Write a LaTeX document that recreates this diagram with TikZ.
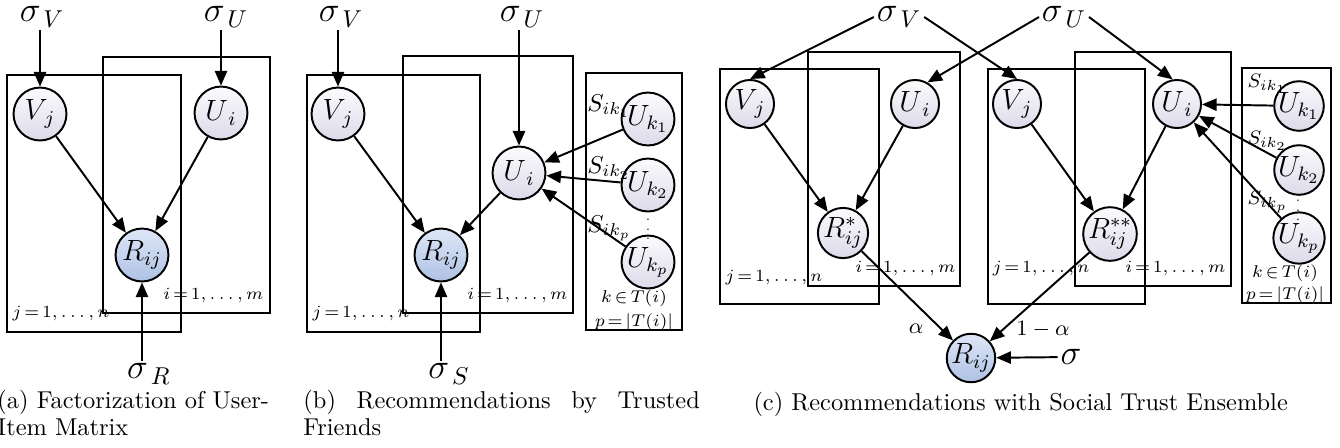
\documentclass[tikz,border=0pt]{standalone}
\usetikzlibrary{arrows.meta}
\definecolor{nodetop}{RGB}{252,251,253}
\definecolor{nodebot}{RGB}{220,218,233}
\definecolor{obstop}{RGB}{222,231,247}
\definecolor{obsbot}{RGB}{174,193,228}
\newcommand\idxfont{\fontsize{7.2}{9}\selectfont\thickmuskip=2.5mu\medmuskip=1.5mu}
\tikzset{
  lat/.style={circle, draw, line width=0.8pt, inner sep=0pt, minimum size=21.7pt,
    top color=nodetop, bottom color=nodebot, font=\large},
  latc/.style={lat, minimum size=19.7pt},
  obs/.style={lat, top color=obstop, bottom color=obsbot},
  obsc/.style={obs, minimum size=19.7pt},
  plate/.style={draw, line width=0.8pt},
  arr/.style={-{Triangle[length=6pt,width=5pt]}, line width=0.8pt},
  hyp/.style={font=\Large, inner sep=1pt},
  idx/.style={font=\idxfont, inner sep=0pt},
  idxw/.style={idx, anchor=west},
  idxe/.style={idx, anchor=east},
  slab/.style={anchor=west, inner sep=0pt},
  dotsty/.style={inner sep=0pt, font=\tiny},
  captext/.style={anchor=base west, inner sep=0pt, font=\normalsize},
}
\begin{document}
\begin{tikzpicture}[x=0.41pt, y=-0.41pt]
\useasboundingbox (0,0) rectangle (1340,447);
% ---------------- (a) ----------------
\draw[plate] (7,75) rectangle (181,332);
\draw[plate] (103,57) rectangle (270,313);
\node[lat] (aV) at (40,114) {$V_{\,j}$};
\node[lat] (aU) at (221,113) {$U_{\,i}$};
\node[obs] (aR) at (142,255) {$R_{ij}$};
\node[hyp] (asV) at (42,17) {$\sigma_{\,V}$};
\node[hyp] (asU) at (226,17) {$\sigma_{\,U}$};
\node[hyp] (asR) at (149,374) {$\sigma_{\,R}$};
\draw[arr] (asV.south -| aV) -- (aV);
\draw[arr] (asU.south -| aU) -- (aU);
\draw[arr] (asR.north -| aR) -- (aR);
\draw[arr] (aV) -- (aR);
\draw[arr] (aU) -- (aR);
\node[idxw] (aj) at (12,313) {$j = 1,\ldots,n$};
\node[idxe] (ai) at (264,295) {$i = 1,\ldots,m$};
% ---------------- (b) ----------------
\draw[plate] (307,75) rectangle (480,332);
\draw[plate] (403,56) rectangle (573,313);
\draw[plate] (586,73) rectangle (682,330);
\node[lat] (bV) at (338,114) {$V_{\,j}$};
\node[lat] (bU) at (519,173) {$U_{\,i}$};
\node[obs] (bR) at (441,255) {$R_{ij}$};
\node[lat] (bK1) at (648,119) {$U_{k_1}$};
\node[lat] (bK2) at (648,185) {$U_{k_2}$};
\node[lat] (bKp) at (648,262) {$U_{k_p}$};
\node[dotsty] (bdots) at (648,222) {$\vdots$};
\node[hyp] (bsV) at (341,17) {$\sigma_{\,V}$};
\node[hyp] (bsU) at (522,17) {$\sigma_{\,U}$};
\node[hyp] (bsS) at (449,374) {$\sigma_{\,S}$};
\draw[arr] (bsV.south -| bV) -- (bV);
\draw[arr] (bsU.south -| bU) -- (bU);
\draw[arr] (bsS.north -| bR) -- (bR);
\draw[arr] (bV) -- (bR);
\draw[arr] (bU) -- (bR);
\draw[arr] (bK1) -- (bU);
\draw[arr] (bK2) -- (bU);
\draw[arr] (bKp) -- (bU);
\node[slab] (bS1) at (587,106) {$S_{ik_1}$};
\node[slab] (bS2) at (587,168) {$S_{ik_2}$};
\node[slab] (bSp) at (587,228) {$S_{ik_p}$};
\node[idxw] (bj) at (312,313) {$j = 1,\ldots,n$};
\node[idxe] (bi) at (568,295) {$i = 1,\ldots,m$};
\node[idx] (bk) at (634,298) {$k\in T(i)$};
\node[idx] (bp) at (634,322) {$p=\left|T(i)\right|$};
% ---------------- (c) ----------------
\draw[plate] (720,69) rectangle (879,304);
\draw[plate] (808,52) rectangle (960,286);
\draw[plate] (988,69) rectangle (1145,304);
\draw[plate] (1075,52) rectangle (1231,286);
\draw[plate] (1242,68) rectangle (1331,303);
\node[latc] (cV1) at (750,104) {$V_{\,j}$};
\node[latc] (cU1) at (915,104) {$U_{\,i}$};
\node[latc] (cR1) at (843,233) {$R^{*}_{ij}$};
\node[latc] (cV2) at (1017,104) {$V_{\,j}$};
\node[latc] (cU2) at (1177,104) {$U_{\,i}$};
\node[latc] (cR2) at (1110,234) {$R^{**}_{ij}$};
\node[latc] (cK1) at (1299,106) {$U_{k_1}$};
\node[latc] (cK2) at (1299,170) {$U_{k_2}$};
\node[latc] (cKp) at (1299,238) {$U_{k_p}$};
\node[dotsty] (cdots) at (1298,203) {$\vdots$};
\node[obsc] (cR) at (971,358) {$R_{ij}$};
\node[hyp] (csV) at (899,17) {$\sigma_{\,V}$};
\node[hyp] (csU) at (1064,17) {$\sigma_{\,U}$};
\node[hyp] (cs) at (1071,357) {$\sigma$};
\draw[arr] (csV.west) -- (cV1.north);
\draw[arr] (csV.east) -- (cV2.north);
\draw[arr] (csU.west) -- (cU1.60);
\draw[arr] (csU.east) -- (cU2.100);
\draw[arr] (cV1) -- (cR1);
\draw[arr] (cU1) -- (cR1);
\draw[arr] (cV2) -- (cR2);
\draw[arr] (cU2) -- (cR2);
\draw[arr] (cK1) -- (cU2);
\draw[arr] (cK2) -- (cU2);
\draw[arr] (cKp) -- (cU2);
\draw[arr] (cR1) -- (cR);
\draw[arr] (cR2) -- (cR);
\draw[arr] (cs) -- (cR);
\node[font=\small, inner sep=0pt] (calpha) at (916,329) {$\alpha$};
\node[font=\small, inner sep=0pt] (c1alpha) at (1043,329) {$1-\alpha$};
\node[slab, font=\footnotesize] (cS1) at (1247,84) {$S_{ik_1}$};
\node[slab, font=\footnotesize] (cS2) at (1247,141) {$S_{ik_2}$};
\node[slab, font=\footnotesize] (cSp) at (1247,202) {$S_{ik_p}$};
\node[idxw] (cj1) at (725,277) {$j = 1,\ldots,n$};
\node[idxe] (ci1) at (956,268) {$i = 1,\ldots,m$};
\node[idxw] (cj2) at (992,268) {$j = 1,\ldots,n$};
\node[idxe] (ci2) at (1226,268) {$i = 1,\ldots,m$};
\node[idx] (ck) at (1285,273) {$k\in T(i)$};
\node[idx] (cp) at (1285,295) {$p=\left|T(i)\right|$};
% ---------------- captions ----------------
\node[captext] (capa1) at (-3,408) {(a) Factorization of User-};
\node[captext] (capa2) at (-3,435) {Item Matrix};
\node[captext] (capb1) at (303,408) {\makebox[162.5pt][s]{(b) Recommendations by Trusted}};
\node[captext] (capb2) at (303,435) {Friends};
\node[captext] (capc) at (753,410) {(c) Recommendations with Social Trust Ensemble};
\end{tikzpicture}
\end{document}
